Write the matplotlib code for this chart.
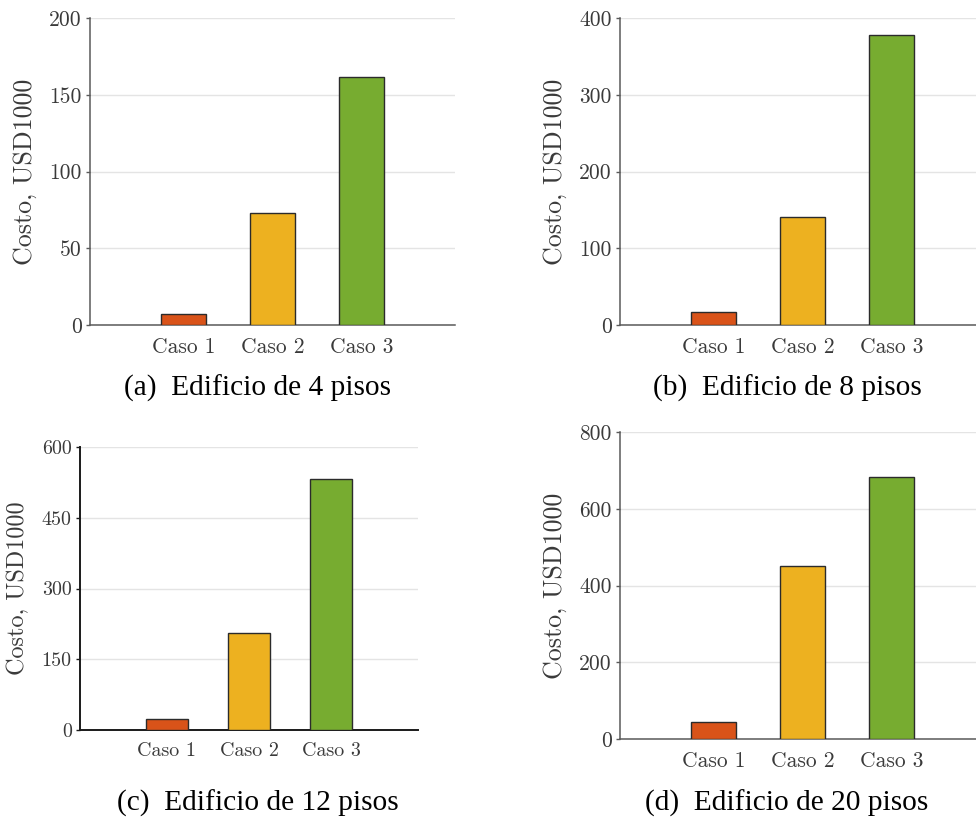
"""Costo por caso para edificios de 4, 8, 12 y 20 pisos."""

import matplotlib

matplotlib.use("Agg")
from matplotlib import pyplot as plt  # noqa: E402

casos = ["Caso 1", "Caso 2", "Caso 3"]
costo_4_pisos = [7.2, 72.8, 161.6]
costo_8_pisos = [16.5, 141, 378]
costo_12_pisos = [24, 206, 532]
costo_20_pisos = [44, 452, 684]

ticks_4 = [0, 50, 100, 150, 200]
ticks_8 = [0, 100, 200, 300, 400]
ticks_12 = [0, 150, 300, 450, 600]
ticks_20 = [0, 200, 400, 600, 800]

captions = [
    "(a)  Edificio de 4 pisos",
    "(b)  Edificio de 8 pisos",
    "(c)  Edificio de 12 pisos",
    "(d)  Edificio de 20 pisos",
]

colores = ["#D95319", "#EDB120", "#77AC30"]

W, H = 976, 818


def _rect(left, top, right, bottom):
    return [left / W, (H - bottom) / H, (right - left) / W, (bottom - top) / H]


def draw_panel(fig, rect, values, ticks, *, scale=1.0, spine_color="#5a5a5a"):
    ax = fig.add_axes(rect)
    x = list(range(1, len(values) + 1))
    ax.bar(x, values, width=0.51, color=colores, edgecolor="#2b2b2b",
           linewidth=1.0, zorder=3)
    ax.set_xlim(-0.05, 4.05)
    ax.set_ylim(ticks[0], ticks[-1])
    ax.set_yticks(ticks)
    ax.set_yticklabels([str(t) for t in ticks])
    ax.set_xticks(x)
    ax.set_xticklabels(casos)

    for side in ("top", "right"):
        ax.spines[side].set_visible(False)
    for side in ("left", "bottom"):
        ax.spines[side].set_color(spine_color)
        ax.spines[side].set_linewidth(1.4 if scale < 1 else 1.1)

    ax.grid(axis="y", color="#e4e4e4", linewidth=1.0, zorder=0)
    ax.tick_params(axis="y", direction="out", length=3, width=1.0,
                   color=spine_color, labelcolor="#3a3a3a",
                   labelsize=15.5 * scale, pad=3)
    ax.tick_params(axis="x", length=0, labelcolor="#3a3a3a",
                   labelsize=15.5 * scale, pad=9)
    for lab in ax.get_xticklabels() + ax.get_yticklabels():
        lab.set_fontfamily("cmr10")
    ax.set_ylabel("Costo, USD1000", fontfamily="cmr10",
                  fontsize=18.7 * scale, color="#3a3a3a", labelpad=9)
    return ax


fig = plt.figure(figsize=(W / 100, H / 100), dpi=100)

draw_panel(fig, _rect(90, 18, 455, 325), costo_4_pisos, ticks_4)
draw_panel(fig, _rect(620, 18, 985, 325), costo_8_pisos, ticks_8)
draw_panel(fig, _rect(80, 447, 418, 730), costo_12_pisos, ticks_12,
           scale=0.93, spine_color="#1a1a1a")
draw_panel(fig, _rect(620, 432, 985, 739), costo_20_pisos, ticks_20)

caption_pos = [(258, 388), (787, 388), (258, 803), (787, 803)]
for (cx, cy), text in zip(caption_pos, captions):
    fig.text(cx / W, (H - cy) / H, text, ha="center", va="center",
             fontfamily="Liberation Serif", fontsize=21.2, color="black")

fig.savefig("out.png", dpi=100)
plt.close(fig)
